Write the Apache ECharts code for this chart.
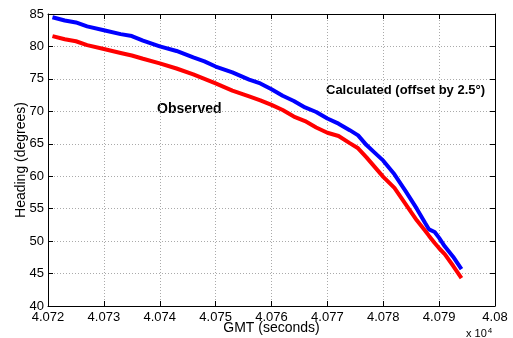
<!DOCTYPE html>
<html lang="en">
<head>
    <meta charset="UTF-8">
    <title>Heading</title>
    <script src="https://cdn.jsdelivr.net/npm/echarts@6/dist/echarts.min.js"></script>
    <style>
        html, body { margin: 0; padding: 0; background: #fff; }
    </style>
</head>
<body>
    <div id="main" style="width: 513px;height:338px;"></div>
</body>

<script>
    // GMT seconds
    var times = [40720.8, 40723, 40725, 40727, 40730, 40733, 40735, 40737, 40740, 40743,
        40746, 40748, 40750, 40753, 40756, 40758, 40760, 40762, 40764, 40766,
        40768, 40770, 40772, 40774, 40775.5, 40777, 40778.5, 40780, 40782, 40784,
        40786, 40787.5, 40788.2, 40789.2, 40790, 40791, 40792.5, 40794];
    // calculated heading, offset by 2.5 deg (blue)
    var calculated = [84.5, 84.0, 83.7, 83.1, 82.5, 81.9, 81.6, 80.9, 80.0, 79.3,
        78.3, 77.7, 76.9, 76.0, 74.9, 74.3, 73.4, 72.4, 71.6, 70.6,
        69.9, 68.9, 68.1, 67.1, 66.3, 64.8, 63.6, 62.4, 60.3, 57.7,
        55.0, 52.8, 51.8, 51.4, 50.5, 49.2, 47.6, 45.7];
    // observed heading (red)
    var observed = [81.6, 81.1, 80.8, 80.2, 79.6, 79.0, 78.6, 78.1, 77.4, 76.6,
        75.7, 75.0, 74.3, 73.2, 72.3, 71.7, 71.0, 70.2, 69.2, 68.5,
        67.5, 66.7, 66.2, 65.1, 64.3, 62.9, 61.4, 59.9, 58.2, 55.7,
        53.2, 51.6, 50.8, 49.7, 48.9, 48.0, 46.2, 44.3];
    var xMin = 40720, xMax = 40800, xStep = 10;
    var yMin = 40, yMax = 85, yStep = 5;

    function pairs(xs, ys) {
        return xs.map(function (x, i) { return [x, ys[i]]; });
    }

    var myChart = echarts.init(document.getElementById('main'));
    var font = 'Liberation Sans, Arial, Helvetica, sans-serif';
    var tickStyle = { show: true, inside: true, length: 5, lineStyle: { color: '#000' } };
    var lineAxis = { show: true, onZero: false, lineStyle: { color: '#000', width: 1 } };

    var option = {
        animation: false,
        grid: { left: 48, right: 18, top: 14, bottom: 32, outerBoundsMode: 'none', containLabel: false },
        xAxis: [{
            type: 'value', min: xMin, max: xMax, interval: xStep,
            position: 'bottom',
            axisLine: lineAxis,
            axisTick: tickStyle,
            axisLabel: {
                color: '#000', fontSize: 13, fontFamily: font, margin: 5,
                formatter: function (v) { return String(parseFloat((v / 10000).toFixed(3))); }
            },
            splitLine: { show: true, lineStyle: { color: '#aaa', type: [1, 2], width: 1 } },
            name: 'GMT (seconds)', nameLocation: 'middle', nameGap: 15, nameMoveOverlap: false,
            nameTextStyle: { color: '#000', fontSize: 14, fontFamily: font }
        }, {
            type: 'value', min: xMin, max: xMax, interval: xStep,
            position: 'top',
            axisLine: lineAxis, axisTick: tickStyle,
            axisLabel: { show: false }, splitLine: { show: false }
        }],
        yAxis: [{
            type: 'value', min: yMin, max: yMax, interval: yStep,
            position: 'left',
            axisLine: lineAxis,
            axisTick: tickStyle,
            axisLabel: { color: '#000', fontSize: 13, fontFamily: font, margin: 4 },
            splitLine: { show: true, lineStyle: { color: '#aaa', type: [1, 2], width: 1 } },
            name: 'Heading (degrees)', nameLocation: 'middle', nameGap: 20, nameMoveOverlap: false,
            nameTextStyle: { color: '#000', fontSize: 14, fontFamily: font }
        }, {
            type: 'value', min: yMin, max: yMax, interval: yStep,
            position: 'right',
            axisLine: lineAxis, axisTick: tickStyle,
            axisLabel: { show: false }, splitLine: { show: false }
        }],
        series: [{
            name: 'Calculated',
            type: 'line',
            data: pairs(times, calculated),
            showSymbol: false,
            lineStyle: { color: '#0000ff', width: 4 },
            itemStyle: { color: '#0000ff' },
            z: 3
        }, {
            name: 'Observed',
            type: 'line',
            data: pairs(times, observed),
            showSymbol: false,
            lineStyle: { color: '#ff0000', width: 4 },
            itemStyle: { color: '#ff0000' },
            z: 4
        }],
        graphic: [{
            type: 'text', left: 157, top: 102,
            style: { text: 'Observed', fill: '#000', font: 'bold 14px ' + font }
        }, {
            type: 'text', left: 326, top: 84,
            style: { text: 'Calculated (offset by 2.5°)', fill: '#000', font: 'bold 13px ' + font }
        }, {
            type: 'text', left: 466, top: 327,
            style: {
                text: 'x 10{s|4}', fill: '#000', font: '11px ' + font,
                rich: { s: { fontSize: 8, verticalAlign: 'top', padding: [0, 0, 6, 1] } }
            }
        }]
    };

    myChart.setOption(option);
</script>
</html>
